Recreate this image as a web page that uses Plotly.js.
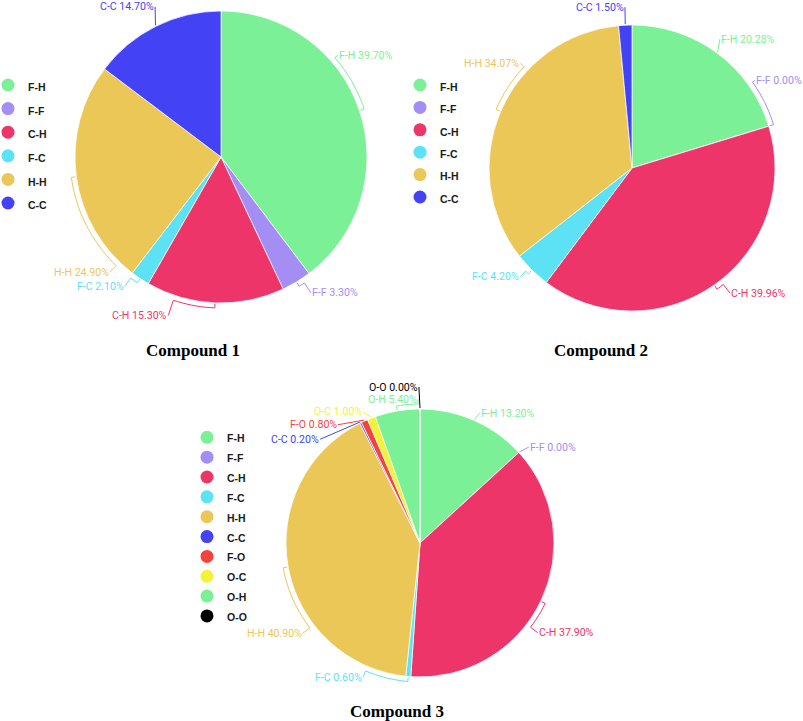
<!DOCTYPE html>
<html><head><meta charset="utf-8">
<script src="https://cdn.plot.ly/plotly-3.0.1.min.js"></script>
<style>html,body{margin:0;padding:0;background:#fff}</style>
</head><body><div id="chart" style="width:803px;height:721px"></div>
<script>
// ---------------- data ----------------
const labels1 = ['F-H','F-F','C-H','F-C','H-H','C-C'];
const values1 = [39.70, 3.30, 15.30, 2.10, 24.90, 14.70];
const labels2 = ['F-H','F-F','C-H','F-C','H-H','C-C'];
const values2 = [20.28, 0.00, 39.96, 4.20, 34.07, 1.50];
const labels3 = ['F-H','F-F','C-H','F-C','H-H','C-C','F-O','O-C','O-H','O-O'];
const values3 = [13.20, 0.00, 37.90, 0.60, 40.90, 0.20, 0.80, 1.00, 5.40, 0.00];
const titles = ['Compound 1','Compound 2','Compound 3'];

// ---------------- styles ----------------
const colorMap = {'F-H':'#7cf096','F-F':'#a48ef4','C-H':'#ee3569','F-C':'#5ce2f4','H-H':'#ebc757',
  'C-C':'#4343f5','F-O':'#f4433a','O-C':'#f2f23a','O-H':'#7cf096','O-O':'#000000'};
const W = 803, H = 721;

// layout of each pie: centre / radius in px, label placement (angle, distance beyond rim, bracket)
const pieLayout = [
  {cx:221, cy:157, r:146, legend:'legend', legX:8, legY:85, legStep:23.6, title:[193,350],
   lab:[{phi:48.9,d:9,arc:true},{phi:146.5,d:17,arc:true},{phi:198.4,d:21,arc:true},
        {phi:216.7,d:15,arc:true},{phi:224,d:14,arc:true},{phi:336.3,d:18,arc:false}]},
  {cx:632, cy:168, r:143, legend:'legend2', legX:420, legY:85, legStep:22.4, title:[601,350],
   lab:[{phi:34.3,d:13,arc:false},{phi:54.5,d:8,arc:true},{phi:141.9,d:16,arc:true},
        {phi:225.8,d:13,arc:true},{phi:313.2,d:10,arc:true},{phi:357.5,d:18,arc:false}]},
  {cx:420, cy:543, r:134, legend:'legend3', legX:207, legY:437.3, legStep:19.85, title:[397,711],
   lab:[{phi:24.8,d:9,arc:false},{phi:48.6,d:11,arc:false},{phi:127.3,d:14,arc:true},
        {phi:203,d:12,arc:true},{phi:232.4,d:14,arc:true},{phi:316.1,d:10,arc:false},
        {phi:325.2,d:10,arc:false},{phi:336.5,d:9,arc:false},{phi:359.2,d:10,arc:true},
        {phi:359.6,d:22,arc:false}]}
];
const pieData = [[labels1, values1],[labels2, values2],[labels3, values3]];

function pt(cx, cy, r, deg){
  const a = deg*Math.PI/180;
  return [cx + r*Math.sin(a), cy - r*Math.cos(a)];
}

const traces = [], shapes = [], annotations = [];
const layout = {
  width:W, height:H, autosize:false,
  margin:{l:0,r:0,t:0,b:0,pad:0,autoexpand:false},
  paper_bgcolor:'#fff', plot_bgcolor:'rgba(0,0,0,0)',
  xaxis:{range:[0,W], visible:false, fixedrange:true, domain:[0,1]},
  yaxis:{range:[H,0], visible:false, fixedrange:true, domain:[0,1]},
  showlegend:true
};

pieLayout.forEach((P, i) => {
  const [labs, vals] = pieData[i];
  const total = vals.reduce((a,b)=>a+b,0);
  const cols = labs.map(l => colorMap[l]);
  traces.push({
    type:'pie', labels:labs, values:vals, sort:false, direction:'clockwise', rotation:0,
    marker:{colors:cols, line:{color:'rgba(255,255,255,0.9)', width:0.8}},
    textinfo:'none', hoverinfo:'label+value', showlegend:false, automargin:false,
    domain:{x:[(P.cx-P.r)/W,(P.cx+P.r)/W], y:[1-(P.cy+P.r)/H, 1-(P.cy-P.r)/H]}
  });
  // legend entries (circles)
  labs.forEach((l, k) => {
    traces.push({
      type:'scatter', mode:'markers', x:[null], y:[null], xaxis:'x', yaxis:'y',
      name:'<span style="font-size:10.5px;font-weight:bold">'+l+'</span>',
      marker:{color:colorMap[l], size:13, symbol:'circle'},
      legend:P.legend, showlegend:true, hoverinfo:'skip'
    });
  });
  const fs = (P.legStep - 3)/1.3;
  const top = P.legY - 5 - P.legStep/2;
  layout[P.legend] = {
    x:(P.legX-20)/W, y:1-top/H, xanchor:'left', yanchor:'top',
    bgcolor:'rgba(0,0,0,0)', borderwidth:0, tracegroupgap:0,
    font:{family:'Liberation Sans, Arial, sans-serif', size:fs, color:'#1a1a1a'},
    itemclick:false, itemdoubleclick:false
  };
  // labels + connectors
  let cum = 0;
  labs.forEach((l, k) => {
    const v = vals[k];
    const theta = (cum + v/2)/total*360;
    cum += v;
    const L = P.lab[k];
    const c = colorMap[l];
    const anchor = pt(P.cx, P.cy, P.r + L.d, L.phi);
    const pts = [pt(P.cx, P.cy, P.r + 1, theta)];
    if (L.arc) {
      const n = Math.max(2, Math.ceil(Math.abs(L.phi - theta)/2));
      for (let s = 0; s <= n; s++) {
        pts.push(pt(P.cx, P.cy, P.r + 5, theta + (L.phi - theta)*s/n));
      }
    }
    pts.push(anchor);
    shapes.push({
      type:'path', xref:'x', yref:'y', layer:'above',
      path:'M' + pts.map(p => p[0].toFixed(2)+','+p[1].toFixed(2)).join('L'),
      line:{color:c, width:1}
    });
    const right = (L.phi % 360) < 180 && (L.phi % 360) > 5;
    annotations.push({
      xref:'x', yref:'y', x:anchor[0], y:anchor[1], showarrow:false,
      xanchor: right ? 'left' : 'right', yanchor:'middle',
      text: l + ' ' + v.toFixed(2) + '%',
      font:{family:'Roboto, sans-serif', size:10.6, color:c}, borderpad:0
    });
  });
  annotations.push({
    xref:'x', yref:'y', x:P.title[0], y:P.title[1], showarrow:false,
    xanchor:'center', yanchor:'middle', text:'<b>'+titles[i]+'</b>',
    font:{family:'Liberation Serif, Times New Roman, serif', size:17, color:'#000'}
  });
});
layout.shapes = shapes;
layout.annotations = annotations;

Plotly.newPlot('chart', traces, layout, {displayModeBar:false, staticPlot:false});
</script>
</body></html>
